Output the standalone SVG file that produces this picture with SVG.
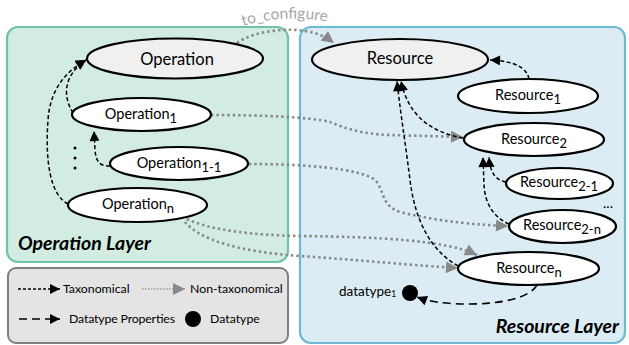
<svg xmlns="http://www.w3.org/2000/svg" width="629" height="345" viewBox="0 0 629 345">
<style>
text{font-family:Lato,"Liberation Sans",sans-serif;fill:#000}
.node{stroke:#000;stroke-width:2.2;fill:#fff}
.main{fill:#f0f0f0}
.lbl{font-size:14.5px;text-anchor:middle}
.big{font-size:16.5px;text-anchor:middle}
.sub{font-size:13px}
.tax{fill:none;stroke:#000;stroke-width:1.5;stroke-dasharray:4 2.5}
.ntax{fill:none;stroke:#888;stroke-width:2.6;stroke-dasharray:2.4 3}
.dtp{fill:none;stroke:#000;stroke-width:1.6;stroke-dasharray:8 5}
.layer{font-size:19.5px;font-weight:bold;font-style:italic}
.leg{font-size:12.3px}
</style>
<defs>
<marker id="ab" viewBox="0 0 10 10" refX="10" refY="5" markerWidth="11" markerHeight="10" markerUnits="userSpaceOnUse" orient="auto"><path d="M0,0 L10,5 L0,10z" fill="#000"/></marker>
<marker id="ag" viewBox="0 0 10 10" refX="10" refY="5" markerWidth="13" markerHeight="12" markerUnits="userSpaceOnUse" orient="auto"><path d="M0,0 L10,5 L0,10z" fill="#888"/></marker>
<path id="tcp" d="M243,26 Q288,12 338,24"/>
</defs>
<g id="operation-layer">
<rect x="7" y="27" width="281" height="235" rx="11" fill="#d2ece2" stroke="#70c4a6" stroke-width="2.2"/>
<text x="18" y="250" class="layer">Operation Layer</text>
</g>
<g id="resource-layer">
<rect x="300" y="27" width="325" height="316" rx="11" fill="#dbecf4" stroke="#6cbad3" stroke-width="2.2"/>
<text x="619" y="333" class="layer" text-anchor="end">Resource Layer</text>
</g>
<g id="legend">
<rect x="8" y="268" width="280" height="75" rx="8" fill="#e4e4e4" stroke="#7f7f7f" stroke-width="2"/>
<path d="M18,289 L60,289" fill="none" stroke="#000" stroke-width="1.5" stroke-dasharray="3 2" marker-end="url(#ab)"/>
<text x="63" y="293" class="leg">Taxonomical</text>
<path d="M142,289 L185,289" fill="none" stroke="#999" stroke-width="1.5" stroke-dasharray="1.5 1.5" marker-end="url(#ag)"/>
<text x="190" y="293" class="leg">Non-taxonomical</text>
<path d="M19,319 L60,319" class="dtp" stroke-dasharray="6 4" marker-end="url(#ab)"/>
<text x="69" y="323" class="leg" textLength="106">Datatype Properties</text>
<circle cx="193" cy="319" r="8" fill="#000"/>
<text x="210" y="323" class="leg">Datatype</text>
</g>
<g id="connectors">
<path class="ntax" d="M237,43 C255,30 290,28 305,31 C318,33 326,37 334,43" marker-end="url(#ag)"/>
<text font-size="15.5" style="fill:#a6a6a6"><textPath href="#tcp">to_configure</textPath></text>
<path class="ntax" d="M211,115 C260,115 310,117 330,122 C345,128 360,134 390,135 L463,137" marker-end="url(#ag)"/>
<path class="ntax" d="M249,164 C300,164 360,168 375,180 C385,190 380,205 400,212 C440,222 480,225 508,226" marker-end="url(#ag)"/>
<path class="ntax" d="M187,219 C210,230 250,235 300,236 C380,237 445,240 477,255" marker-end="url(#ag)"/>
<path class="ntax" d="M185,222 C200,240 240,252 300,256 C360,260 420,266 458,268" marker-end="url(#ag)"/>
<path class="tax" d="M73,113 C62,95 64,75 86,60" marker-end="url(#ab)"/>
<path class="tax" d="M68,204 C50,195 45,160 48,120 C50,90 65,72 86,60" marker-end="url(#ab)"/>
<path class="tax" d="M110,166 C98,166 96,160 95,150 L94,131" marker-end="url(#ab)"/>
<path class="tax" d="M529,79 C527,68 515,61 490,60" marker-end="url(#ab)"/>
<path class="tax" d="M463,138 C430,132 408,115 401,81" marker-end="url(#ab)"/>
<path class="tax" d="M458,266 C430,250 415,220 410,180 C405,140 400,110 397,81" marker-end="url(#ab)"/>
<path class="tax" d="M506,182 C495,180 490,172 489,157" marker-end="url(#ab)"/>
<path class="tax" d="M509,224 C495,218 485,205 484,185 L483,157" marker-end="url(#ab)"/>
<path class="dtp" d="M537,285 C530,298 500,304 470,304 C445,304 430,302 417,297" marker-end="url(#ab)"/>
</g>
<g id="dots-op">
<circle cx="75" cy="148" r="1.5"/><circle cx="75" cy="158" r="1.5"/><circle cx="75" cy="168" r="1.5"/>
</g>
<g id="n-operation"><ellipse class="node main" cx="175" cy="58.5" rx="88" ry="20"/><text x="177" y="65" class="big">Operation</text></g>
<g id="n-operation1"><ellipse class="node" cx="141.5" cy="114.5" rx="69.5" ry="16.5"/><text x="141" y="119" class="lbl">Operation<tspan class="sub" dy="4">1</tspan></text></g>
<g id="n-operation11"><ellipse class="node" cx="179" cy="163.5" rx="69" ry="16.5"/><text x="179" y="168" class="lbl">Operation<tspan class="sub" dy="4">1-1</tspan></text></g>
<g id="n-operationn"><ellipse class="node" cx="137.5" cy="205" rx="69.5" ry="17"/><text x="138" y="209" class="lbl">Operation<tspan class="sub" dy="4">n</tspan></text></g>
<g id="n-resource"><ellipse class="node main" cx="400" cy="59.5" rx="88" ry="20.5"/><text x="400" y="64" class="big">Resource</text></g>
<g id="n-resource1"><ellipse class="node" cx="528" cy="96" rx="70" ry="17"/><text x="528" y="100" class="lbl">Resource<tspan class="sub" dy="4">1</tspan></text></g>
<g id="n-resource2"><ellipse class="node" cx="534" cy="139.5" rx="70" ry="16.5"/><text x="534" y="144" class="lbl">Resource<tspan class="sub" dy="4">2</tspan></text></g>
<g id="n-resource21"><ellipse class="node" cx="559.5" cy="183.5" rx="53.5" ry="15.5"/><text x="559" y="187" class="lbl">Resource<tspan class="sub" dy="4">2-1</tspan></text></g>
<g id="n-resource2n"><ellipse class="node" cx="562.5" cy="226.5" rx="53.5" ry="16.5"/><text x="562" y="230" class="lbl">Resource<tspan class="sub" dy="4">2-n</tspan></text></g>
<g id="n-resourcen"><ellipse class="node" cx="528.5" cy="268.5" rx="70.5" ry="16.5"/><text x="529" y="273" class="lbl">Resource<tspan class="sub" dy="4">n</tspan></text></g>
<text x="608" y="208" font-size="14" text-anchor="middle">...</text>
<g id="n-datatype1"><circle cx="410" cy="293" r="8" fill="#000"/><text x="339" y="296" font-size="13.5">datatype<tspan font-size="8.5" dy="1">1</tspan></text></g>
</svg>
